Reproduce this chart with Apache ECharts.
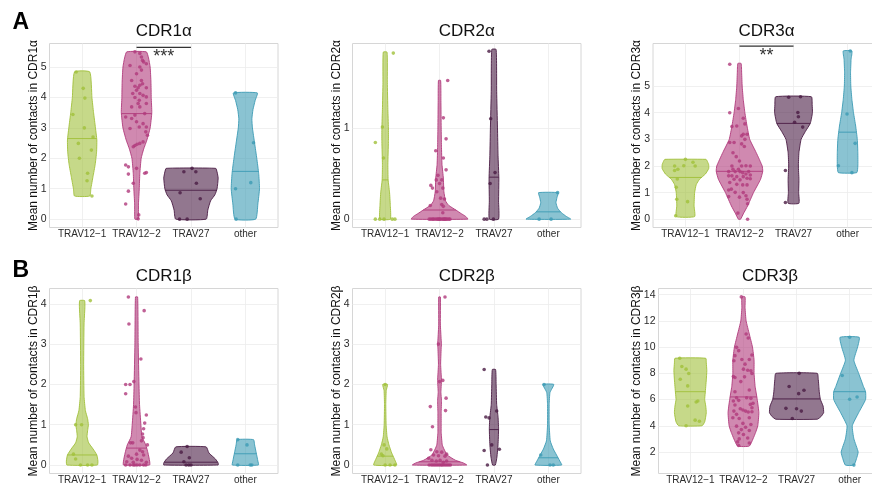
<!DOCTYPE html>
<html><head><meta charset="utf-8">
<script src="https://cdn.jsdelivr.net/npm/echarts@6/dist/echarts.min.js"></script>
<style>html,body{margin:0;padding:0;background:#fff}#c{width:872px;height:487px}</style>
</head><body><div id="c"></div>
<script>
// ---------- data ----------
const categories = ['TRAV12−1', 'TRAV12−2', 'TRAV27', 'other'];
const panelTitles = ['CDR1α', 'CDR2α', 'CDR3α', 'CDR1β', 'CDR2β', 'CDR3β'];
const axisTitles = panelTitles.map(t => 'Mean number of contacts in ' + t);
const groupColors = ['#a0c03a', '#b03a7c', '#4a1c44', '#3c9bb4'];

// y axis ranges and tick labels per panel
const yRanges = [[-0.275, 5.775], [-0.0917, 1.925], [-0.31, 6.6], [-0.21, 4.38], [-0.21, 4.38], [0.36, 14.47]];
const yTicks = [[0, 1, 2, 3, 4, 5], [0, 1], [0, 1, 2, 3, 4, 5], [0, 1, 2, 3, 4], [0, 1, 2, 3, 4], [2, 4, 6, 8, 10, 12, 14]];

// points: per category list of [jitter, value]
const cdr1aPoints = [
  [[-0.11,4.84],[0.02,4.30],[0.05,3.98],[-0.17,3.44],[0.04,3.0],[-0.07,2.49],[-0.05,2.0],[0.17,2.27],[0.10,1.51],[0.09,1.26],[0.18,0.76],[0.2,2.7]],
  [[-0.03,5.5],[0.06,5.45],[0.09,5.33],[0.11,5.22],[0.13,5.17],[0.18,5.11],[-0.12,5.05],[0.06,5.0],[0.09,4.9],[0.0,4.78],[-0.09,4.56],[0.09,4.56],[0.11,4.45],[0.06,4.4],[-0.03,4.37],[0.03,4.32],[0.18,4.32],[0.0,4.24],[-0.07,4.13],[0.06,4.13],[0.12,4.07],[-0.03,4.0],[0.18,4.02],[0.05,3.91],[0.03,3.8],[-0.09,3.69],[0.06,3.69],[0.18,3.8],[0.15,3.47],[-0.03,3.42],[-0.2,3.36],[-0.09,3.31],[0.0,3.2],[0.05,3.03],[0.18,3.03],[-0.12,2.98],[0.12,3.14],[0.17,2.87],[0.2,2.76],[0.12,2.54],[0.06,2.49],[0.01,2.46],[-0.03,2.42],[-0.06,2.38],[-0.15,1.72],[-0.2,1.78],[-0.15,1.48],[0.0,1.67],[0.15,1.51],[0.18,1.53],[-0.06,1.18],[-0.15,0.92],[-0.2,0.5],[0.04,0.14],[0.03,0.01]],
  [[-0.13,1.56],[0.02,1.67],[0.09,1.56],[0.1,1.18],[-0.2,0.87],[0.17,0.67],[-0.21,0],[-0.07,0]],
  [[-0.18,4.15],[0.15,2.51],[0.1,1.2],[-0.18,1.0],[-0.17,0]]
];
const cdr2aPoints = [
  [[-0.18,0.84],[-0.05,1.01],[-0.03,0.67],[0.15,1.82],[-0.18,0],[-0.1,0],[-0.02,0],[0.13,0],[0.18,0]],
  [[0.15,1.52],[0.07,1.11],[0.12,0.88],[-0.07,0.75],[0.07,0.67],[0.12,0.54],[-0.03,0.48],[-0.06,0.43],[0.04,0.43],[0.0,0.39],[-0.16,0.37],[-0.13,0.34],[0.06,0.34],[-0.05,0.3],[0.02,0.23],[0.09,0.22],[0.04,0.16],[-0.17,0.15],[0.07,0.14],[0.06,0.07],
   [-0.19,0],[-0.16,0],[-0.13,0],[-0.11,0],[-0.08,0],[-0.05,0],[-0.03,0],[0.0,0],[0.02,0],[0.05,0],[0.07,0],[0.09,0],[0.12,0],[0.14,0],[0.17,0],[0.19,0],[-0.01,0],[0.1,0]],
  [[-0.09,1.84],[-0.06,1.1],[-0.07,0.39],[0.02,0.51],[-0.18,0],[-0.13,0],[-0.01,0]],
  [[0.17,0.29],[-0.17,0],[0.05,0]]
];
const cdr3aPoints = [
  [[0.0,2.25],[-0.2,2.0],[-0.03,2.01],[0.14,2.14],[0.18,2.0],[-0.14,1.88],[-0.2,1.83],[-0.15,1.51],[-0.17,1.2],[-0.16,0.75],[0.04,0.66],[-0.18,0.13]],
  [[-0.18,5.82],[-0.18,4.0],[-0.02,4.16],[-0.14,3.48],[-0.05,3.5],[0.07,3.79],[0.1,3.58],[-0.18,2.88],[-0.1,2.88],[0.04,3.13],[0.07,3.19],[0.14,3.19],[0.04,2.83],[0.09,2.73],[0.1,3.0],[-0.12,2.5],[-0.06,2.35],[-0.14,2.0],[0.0,2.19],[0.04,2.0],[0.12,2.01],[0.2,2.0],[0.17,1.79],[-0.02,1.88],[-0.12,1.88],[-0.08,1.79],[-0.2,1.79],[0.01,1.79],[0.06,1.75],[0.12,1.7],[0.2,1.66],[-0.14,1.63],[-0.05,1.6],[0.07,1.6],[-0.2,1.63],[-0.1,1.5],[0.01,1.48],[0.14,1.54],[0.2,1.52],[-0.18,1.38],[-0.05,1.31],[0.06,1.29],[0.14,1.29],[-0.15,1.13],[-0.2,1.1],[-0.08,1.01],[0.07,1.0],[0.0,0.83],[-0.2,0.85],[0.12,0.88],[0.14,0.75],[0.15,0.58],[-0.03,0.23],[0.15,0]],
  [[-0.09,4.58],[0.13,4.6],[0.08,4.01],[0.09,3.85],[0.02,3.64],[0.17,3.46],[-0.15,1.83],[-0.15,0.63]],
  [[0.05,6.32],[-0.01,3.95],[0.14,2.85],[-0.17,2.01],[0.08,1.75]]
];
const cdr1bPoints = [
  [[0.15,4.08],[-0.12,1.0],[-0.01,1.0],[-0.16,0.27],[-0.12,0.15],[-0.03,0],[0.1,0],[0.18,0]],
  [[-0.15,4.17],[0.14,3.83],[-0.14,3.5],[0.08,2.63],[-0.05,2.07],[-0.2,2.0],[-0.12,2.0],[-0.2,1.77],[-0.02,1.44],[-0.01,1.3],[0.18,1.24],[0.15,1.04],[0.13,0.9],[0.11,0.77],[0.12,0.68],[0.09,0.6],[0.2,0.5],[-0.11,0.55],[-0.07,0.55],[-0.15,0.22],[0.0,0.27],[0.06,0.37],[0.11,0.33],[0.13,0.25],[-0.09,0.17],[0.01,0.14],[0.09,0.12],[-0.18,0.08],[-0.06,0.07],[0.18,0.07],
   [-0.2,0],[-0.12,0],[-0.06,0],[0.01,0],[0.06,0],[0.13,0],[0.17,0],[-0.03,0]],
  [[-0.07,0.46],[-0.18,0.32],[-0.03,0.18],[-0.13,0.08],[-0.09,0],[-0.04,0],[0.0,0]],
  [[-0.14,0.63],[0.03,0.5],[-0.14,0],[0.09,0],[0.12,0]]
];
const cdr2bPoints = [
  [[0.0,2.0],[-0.02,0.5],[0.03,0.4],[-0.07,0.27],[-0.04,0.23],[0.0,0],[0.09,0],[0.18,0]],
  [[0.1,4.17],[-0.02,3.0],[0.0,2.07],[0.06,2.1],[0.12,1.66],[-0.17,1.45],[0.11,1.35],[-0.13,0.95],[-0.16,0.38],[-0.05,0.33],[0.04,0.32],[0.13,0.27],[-0.11,0.25],[-0.02,0.23],[0.1,0.22],[-0.2,0.17],[-0.14,0.12],[0.01,0.12],[0.13,0.1],[-0.06,0.1],[0.07,0.07],
   [-0.19,0],[-0.15,0],[-0.12,0],[-0.09,0],[-0.06,0],[-0.03,0],[0.0,0],[0.03,0],[0.05,0],[0.08,0],[0.11,0],[0.14,0],[0.17,0],[0.2,0]],
  [[-0.18,2.37],[-0.15,1.19],[-0.09,1.17],[0.05,1.34],[-0.04,0.5],[-0.18,0.36],[0.1,0.39],[-0.12,0]],
  [[-0.08,2.0],[-0.14,0.25],[0.03,0],[0.09,0]]
];
const cdr3bPoints = [
  [[-0.2,9.15],[-0.16,8.52],[-0.08,8.32],[-0.03,7.99],[-0.19,7.55],[-0.05,7.04],[0.14,5.89],[0.11,5.81],[-0.05,5.51],[0.09,4.43],[0.17,4.35],[-0.08,4.0]],
  [[-0.04,13.83],[0.05,11.0],[0.09,10.7],[-0.13,9.98],[-0.09,9.73],[-0.16,9.35],[0.16,9.4],[-0.03,9.05],[0.11,9.05],[-0.18,8.96],[0.03,8.7],[0.0,8.32],[0.08,8.24],[0.14,8.19],[-0.19,7.76],[-0.16,7.68],[0.02,7.73],[0.16,7.99],[-0.05,7.37],[0.11,6.73],[-0.16,6.6],[-0.13,6.14],[-0.09,5.94],[0.06,6.14],[0.14,6.09],[0.18,5.71],[0.13,5.63],[0.16,5.38],[-0.19,5.89],[-0.16,5.58],[-0.06,5.3],[-0.01,5.2],[0.04,5.12],[-0.18,5.12],[-0.13,4.87],[-0.2,4.61],[-0.08,4.56],[0.09,5.05],[0.16,5.07],[0.11,4.61],[-0.01,4.18],[-0.13,3.97],[0.04,3.89],[-0.04,3.71],[0.14,4.1],[-0.09,3.46],[0.11,3.64],[0.0,3.33],[-0.08,3.0],[0.08,3.07],[-0.11,2.77],[-0.09,2.49],[0.11,2.69]],
  [[0.05,8.0],[-0.14,7.0],[0.14,6.71],[0.04,6.45],[-0.2,5.33],[0.0,5.3],[0.09,5.12],[-0.08,4.56]],
  [[0.0,10.75],[-0.14,7.83],[0.0,6.02],[0.14,6.2],[0.08,1.0]]
];

// violin outlines: per category list of [value, half width in category units]
const cdr1aViolins = [
  [[0.76,0.14],[1.0,0.16],[1.4,0.2],[1.8,0.24],[2.2,0.265],[2.6,0.27],[3.0,0.245],[3.5,0.21],[4.0,0.18],[4.84,0.14]],
  [[0,0.03],[0.5,0.035],[1.0,0.05],[1.5,0.06],[2.0,0.085],[2.3,0.13],[2.6,0.19],[3.0,0.25],[3.5,0.28],[4.0,0.27],[4.5,0.265],[5.0,0.25],[5.3,0.22],[5.5,0.18]],
  [[0,0.28],[0.3,0.31],[0.6,0.36],[0.8,0.44],[1.0,0.48],[1.35,0.5],[1.55,0.48],[1.67,0.455]],
  [[0,0.19],[0.5,0.23],[1.0,0.26],[1.5,0.245],[2.0,0.21],[2.5,0.17],[3.0,0.13],[3.3,0.12],[3.6,0.14],[3.9,0.18],[4.15,0.22]]
];
const cdr2aViolins = [
  [[0,0.095],[0.15,0.095],[0.3,0.08],[0.43,0.055],[0.6,0.05],[0.85,0.06],[1.0,0.06],[1.2,0.05],[1.5,0.04],[1.83,0.035]],
  [[0,0.52],[0.03,0.48],[0.06,0.4],[0.1,0.3],[0.15,0.17],[0.2,0.11],[0.3,0.08],[0.45,0.07],[0.6,0.045],[0.8,0.035],[1.0,0.03],[1.3,0.025],[1.52,0.02]],
  [[0,0.085],[0.2,0.085],[0.45,0.09],[0.7,0.075],[1.0,0.065],[1.4,0.05],[1.86,0.04]],
  [[0,0.41],[0.03,0.33],[0.07,0.24],[0.12,0.17],[0.18,0.14],[0.24,0.16],[0.29,0.18]]
];
const cdr3aViolins = [
  [[0.1,0.17],[0.5,0.16],[1.0,0.17],[1.3,0.2],[1.5,0.26],[1.7,0.37],[1.9,0.43],[2.05,0.43],[2.2,0.4],[2.25,0.38]],
  [[0,0.02],[0.2,0.07],[0.5,0.15],[1.0,0.26],[1.5,0.39],[1.8,0.43],[2.0,0.42],[2.5,0.31],[3.0,0.19],[3.5,0.14],[4.0,0.1],[4.5,0.07],[5.0,0.05],[5.5,0.04],[5.85,0.03]],
  [[0.6,0.1],[1.0,0.095],[1.5,0.1],[2.0,0.09],[2.5,0.1],[3.0,0.14],[3.3,0.22],[3.6,0.31],[4.0,0.35],[4.3,0.345],[4.6,0.33]],
  [[1.75,0.17],[2.0,0.19],[2.5,0.19],[3.0,0.18],[3.5,0.15],[4.0,0.11],[4.5,0.08],[5.0,0.06],[5.5,0.055],[6.0,0.065],[6.32,0.08]]
];
const cdr1bViolins = [
  [[0,0.28],[0.1,0.29],[0.25,0.27],[0.4,0.2],[0.55,0.12],[0.7,0.09],[0.85,0.1],[1.0,0.115],[1.15,0.1],[1.35,0.06],[1.7,0.035],[2.5,0.028],[3.5,0.035],[3.9,0.05],[4.08,0.045]],
  [[0,0.24],[0.1,0.24],[0.3,0.21],[0.5,0.17],[0.7,0.1],[1.0,0.08],[1.5,0.055],[2.0,0.045],[3.0,0.03],[4.17,0.02]],
  [[0,0.5],[0.05,0.5],[0.15,0.45],[0.3,0.33],[0.45,0.28]],
  [[0,0.24],[0.1,0.23],[0.3,0.2],[0.5,0.17],[0.63,0.15]]
];
const cdr2bViolins = [
  [[0,0.21],[0.15,0.17],[0.3,0.12],[0.5,0.07],[0.7,0.035],[1.0,0.018],[1.5,0.012],[1.85,0.02],[2.0,0.045]],
  [[0,0.5],[0.05,0.44],[0.12,0.29],[0.25,0.14],[0.4,0.08],[0.5,0.05],[0.8,0.03],[1.0,0.03],[1.3,0.03],[1.6,0.035],[1.8,0.025],[2.1,0.035],[2.5,0.02],[2.9,0.03],[3.0,0.035],[3.1,0.03],[3.5,0.015],[4.17,0.015]],
  [[0,0.025],[0.2,0.055],[0.5,0.075],[0.9,0.085],[1.2,0.075],[1.5,0.05],[2.0,0.04],[2.37,0.03]],
  [[0,0.245],[0.1,0.21],[0.25,0.15],[0.4,0.09],[0.6,0.035],[1.0,0.015],[1.5,0.015],[1.8,0.03],[2.0,0.1]]
];
const cdr3bViolins = [
  [[4.0,0.22],[4.3,0.27],[5.0,0.3],[5.5,0.29],[6.0,0.27],[6.5,0.28],[7.5,0.3],[8.2,0.31],[8.8,0.3],[9.15,0.29]],
  [[2.45,0.11],[3.0,0.18],[3.5,0.23],[4.0,0.27],[5.0,0.29],[6.0,0.26],[7.0,0.22],[8.0,0.2],[9.0,0.2],[10.0,0.17],[11.0,0.11],[12.0,0.05],[13.0,0.03],[13.83,0.03]],
  [[4.5,0.39],[4.7,0.46],[5.0,0.51],[5.5,0.5],[6.0,0.45],[6.5,0.43],[7.0,0.42],[7.5,0.41],[8.0,0.39]],
  [[1.0,0.08],[1.5,0.13],[2.0,0.16],[3.0,0.08],[4.0,0.05],[5.0,0.17],[6.0,0.3],[6.6,0.3],[7.0,0.26],[8.0,0.17],[9.0,0.08],[10.0,0.15],[10.75,0.18]]
];

// medians per category
const cdr1aMedians = [2.65, 3.47, 0.95, 1.57];
const cdr2aMedians = [0.43, 0.1, 0.46, 0.08];
const cdr3aMedians = [1.57, 1.8, 3.6, 3.27];
const cdr1bMedians = [0.25, 0.42, 0.07, 0.28];
const cdr2bMedians = [0.22, 0.08, 0.88, 0.18];
const cdr3bMedians = [6.6, 6.2, 6.05, 6.6];

// significance brackets: [panel, fromCategory, toCategory, y value, label]
const sigBars = [[0, 1, 2, 5.65, '***'], [2, 1, 2, 6.5, '**']];

const panelPoints = [cdr1aPoints, cdr2aPoints, cdr3aPoints, cdr1bPoints, cdr2bPoints, cdr3bPoints];
const panelViolins = [cdr1aViolins, cdr2aViolins, cdr3aViolins, cdr1bViolins, cdr2bViolins, cdr3bViolins];
const panelMedians = [cdr1aMedians, cdr2aMedians, cdr3aMedians, cdr1bMedians, cdr2bMedians, cdr3bMedians];

// ---------- layout / style ----------
const FONT = '"Liberation Sans", Arial, Helvetica, sans-serif';
const grids = [
  {left: 49.5, top: 43.5, width: 228.5, height: 184},
  {left: 352.5, top: 43.5, width: 228.5, height: 184},
  {left: 653, top: 43.5, width: 227, height: 184},
  {left: 49.5, top: 288.5, width: 228.5, height: 185},
  {left: 352.5, top: 288.5, width: 228.5, height: 185},
  {left: 658.5, top: 288.5, width: 223, height: 185}
];
const nameGaps = [10, 10, 10, 10, 10, 16];

function rgba(hex, a) {
  const n = parseInt(hex.slice(1), 16);
  return `rgba(${(n >> 16) & 255},${(n >> 8) & 255},${n & 255},${a})`;
}
function widthAt(prof, v) {
  for (let k = 0; k < prof.length - 1; k++) {
    const [v0, w0] = prof[k], [v1, w1] = prof[k + 1];
    if (v >= v0 && v <= v1) return w0 + (w1 - w0) * (v - v0) / (v1 - v0);
  }
  return v < prof[0][0] ? prof[0][1] : prof[prof.length - 1][1];
}

const option = {
  animation: false,
  backgroundColor: '#fff',
  textStyle: {fontFamily: FONT},
  title: [],
  grid: [],
  xAxis: [],
  yAxis: [],
  series: []
};

option.title.push({text: 'A', left: 12.5, top: 11, padding: 0, textStyle: {fontSize: 23, fontWeight: 'bold', color: '#000', fontFamily: FONT}});
option.title.push({text: 'B', left: 12.5, top: 259.5, padding: 0, textStyle: {fontSize: 23, fontWeight: 'bold', color: '#000', fontFamily: FONT}});

grids.forEach((g, p) => {
  option.grid.push(Object.assign({show: true, borderColor: '#d6d6d6', borderWidth: 1, backgroundColor: '#fff', containLabel: false, outerBoundsMode: 'none'}, g));
  option.title.push({
    text: panelTitles[p], left: g.left + g.width / 2, top: g.top - 21, textAlign: 'center', padding: 0,
    textStyle: {fontSize: 17, fontWeight: 'normal', color: '#111', fontFamily: FONT}
  });
  option.xAxis.push({
    type: 'value', gridIndex: p, min: -0.6, max: 3.6,
    axisLine: {show: false},
    axisTick: {show: false, customValues: [0, 1, 2, 3]},
    axisLabel: {customValues: [0, 1, 2, 3], formatter: v => categories[Math.round(v)], margin: 2, fontSize: 10, color: '#2b2b2b', fontFamily: FONT},
    splitLine: {show: true, lineStyle: {color: '#ececec', width: 0.8}}
  });
  option.yAxis.push({
    type: 'value', gridIndex: p, min: yRanges[p][0], max: yRanges[p][1],
    name: axisTitles[p], nameLocation: 'middle', nameGap: nameGaps[p], nameMoveOverlap: false,
    nameTextStyle: {fontSize: 12, color: '#111', fontFamily: FONT},
    axisLine: {show: false},
    axisTick: {show: false, customValues: yTicks[p]},
    axisLabel: {customValues: yTicks[p], margin: 3, fontSize: 10.5, color: '#2b2b2b', fontFamily: FONT},
    splitLine: {show: true, lineStyle: {color: '#ececec', width: 0.8}}
  });

  const profiles = panelViolins[p], medians = panelMedians[p];
  option.series.push({
    type: 'custom', xAxisIndex: p, yAxisIndex: p, silent: true, z: 2,
    data: categories.map((c, i) => [i, medians[i]]),
    renderItem: (params, api) => {
      const i = api.value(0), med = api.value(1);
      const prof = profiles[i];
      const left = prof.map(([v, w]) => api.coord([i - w, v]));
      const right = prof.slice().reverse().map(([v, w]) => api.coord([i + w, v]));
      const mw = widthAt(prof, med);
      const a = api.coord([i - mw, med]), b = api.coord([i + mw, med]);
      return {type: 'group', children: [
        {type: 'polygon', shape: {points: left.concat(right), smooth: 0.15},
         style: {fill: rgba(groupColors[i], 0.6), stroke: groupColors[i], lineWidth: 0.9}},
        {type: 'line', shape: {x1: a[0], y1: a[1], x2: b[0], y2: b[1]},
         style: {stroke: groupColors[i], lineWidth: 0.9}}
      ]};
    }
  });
  const pts = [];
  panelPoints[p].forEach((list, i) => list.forEach(([j, v]) => pts.push({value: [i + j, v], itemStyle: {color: groupColors[i]}})));
  option.series.push({
    type: 'scatter', xAxisIndex: p, yAxisIndex: p, silent: true, z: 3,
    symbolSize: 3.6, data: pts
  });
});

sigBars.forEach(([p, c1, c2, y, label]) => {
  option.series.push({
    type: 'custom', xAxisIndex: p, yAxisIndex: p, silent: true, z: 4,
    data: [[c1, c2, y]],
    renderItem: (params, api) => {
      const a = api.coord([api.value(0), api.value(2)]);
      const b = api.coord([api.value(1), api.value(2)]);
      return {type: 'group', children: [
        {type: 'line', shape: {x1: a[0], y1: a[1], x2: b[0], y2: b[1]}, style: {stroke: '#333', lineWidth: 1.2}},
        {type: 'text', x: (a[0] + b[0]) / 2, y: a[1] + 1,
         style: {text: label, fontSize: 18, fill: '#333', align: 'center', verticalAlign: 'top', fontFamily: FONT}}
      ]};
    }
  });
});

const chart = echarts.init(document.getElementById('c'), null, {renderer: 'canvas'});
chart.setOption(option);
</script></body></html>
